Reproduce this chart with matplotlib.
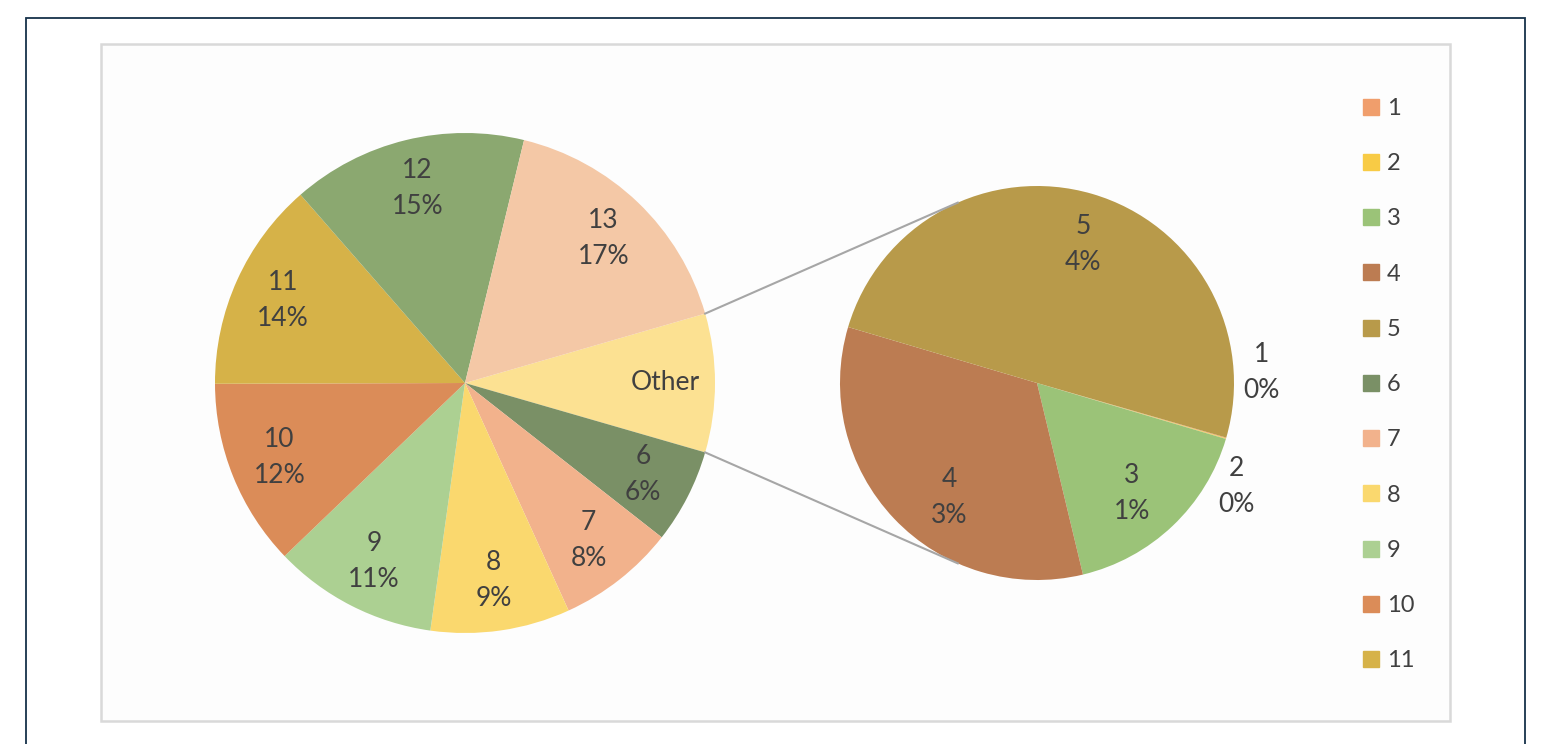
import numpy as np
import matplotlib.pyplot as plt
from matplotlib.patches import Rectangle
from matplotlib.lines import Line2D

plt.rcParams['font.family'] = ['Lato', 'DejaVu Sans']

# data: share of each category (%), first five go to the small pie
names = ['1', '2', '3', '4', '5', '6', '7', '8', '9', '10', '11', '12', '13']
values = [0.005, 0.005, 1.49, 2.98, 4.46, 6.1, 7.6, 9.0, 10.6, 12.1, 13.6, 15.2, 16.7]
colors = ['#F09E6C', '#F8CB45', '#9BC378', '#BC7C52', '#B89A4A', '#7A9066', '#F2B28C',
          '#FAD86E', '#ACD092', '#DB8C58', '#D6B248', '#8BA870', '#F4C8A6']
n_split = 5
other_label = 'Other'
other_color = '#FCE192'
legend_count = 11

text_color = '#404040'
total = sum(values)


def pct(v):
    return '%d%%' % round(100 * v / total)


def mid_xy(w, frac, offset=0):
    ang = np.deg2rad((w.theta1 + w.theta2) / 2 + offset)
    return w.center[0] + frac * w.r * np.cos(ang), w.center[1] + frac * w.r * np.sin(ang)


def tangent_point(p, c, r, upper):
    # tangent point on circle (c, r) seen from external point p
    d = np.array(c) - np.array(p)
    dist = np.hypot(*d)
    base = np.arctan2(-d[1], -d[0])
    a = np.arccos(r / dist)
    ang = base - a if upper else base + a
    return c[0] + r * np.cos(ang), c[1] + r * np.sin(ang)


fig = plt.figure(figsize=(15.45, 7.44), dpi=100)
ax = fig.add_axes([0, 0, 1, 1])

# frames
ax.add_patch(Rectangle((26, -10), 1499, 736, fill=False, ec='#16324a', lw=1.3, zorder=0))
ax.add_patch(Rectangle((101, 23), 1349, 677, fc='#fdfdfd', ec='#d9d9d9', lw=1.8, zorder=0))

main_vals = [sum(values[:n_split])] + values[n_split:]
main_names = [other_label] + names[n_split:]
main_colors = [other_color] + colors[n_split:]
other_frac = main_vals[0] / sum(main_vals)

main_c = (465, 361)
main_r = 250
wedges, _ = ax.pie(main_vals, colors=main_colors, center=main_c, radius=main_r,
                   startangle=180 * other_frac, counterclock=False,
                   wedgeprops=dict(linewidth=0))
for w, name, v in zip(wedges, main_names, main_vals):
    x, y = mid_xy(w, 0.8)
    txt = name if name == other_label else name + '\n' + pct(v)
    ax.text(x, y, txt, ha='center', va='center', fontsize=19, color=text_color,
            linespacing=1.55)

sec_c = (1037, 361)
sec_r = 197
sec_w, _ = ax.pie(values[:n_split], colors=colors[:n_split], center=sec_c, radius=sec_r,
                  startangle=-16.1, counterclock=False, wedgeprops=dict(linewidth=0))
# (radius fraction, angle shift) for labels Excel moved off the slice middle
label_pos = {'1': (1.14, 19), '2': (1.14, -11), '3': (0.74, -3), '4': (0.73, 9)}
for w, name, v in zip(sec_w, names[:n_split], values[:n_split]):
    frac, shift = label_pos.get(name, (0.74, -2))
    x, y = mid_xy(w, frac, shift)
    ax.text(x, y, name + '\n' + pct(v), ha='center', va='center', fontsize=19,
            color=text_color, linespacing=1.55)

# connector lines from the Other slice to the small pie
ow = wedges[0]
for th, upper in [(ow.theta2, True), (ow.theta1, False)]:
    px = main_c[0] + main_r * np.cos(np.deg2rad(th))
    py = main_c[1] + main_r * np.sin(np.deg2rad(th))
    tx, ty = tangent_point((px, py), sec_c, sec_r, upper)
    ax.plot([px, tx], [py, ty], color='#a6a6a6', lw=1.5, zorder=3)

handles = [Line2D([], [], marker='s', ls='', color=c, markersize=11)
           for c in colors[:legend_count]]
ax.legend(handles, names[:legend_count], loc='upper left', bbox_to_anchor=(1364, 646),
          bbox_transform=ax.transData, frameon=False, fontsize=17, labelcolor=text_color,
          handlelength=0.63, handletextpad=0.33, labelspacing=1.45, borderpad=0,
          borderaxespad=0)

ax.set_xlim(0, 1545)
ax.set_ylim(0, 744)
ax.set_aspect('equal')
ax.axis('off')

fig.savefig('out.png', dpi=100)
